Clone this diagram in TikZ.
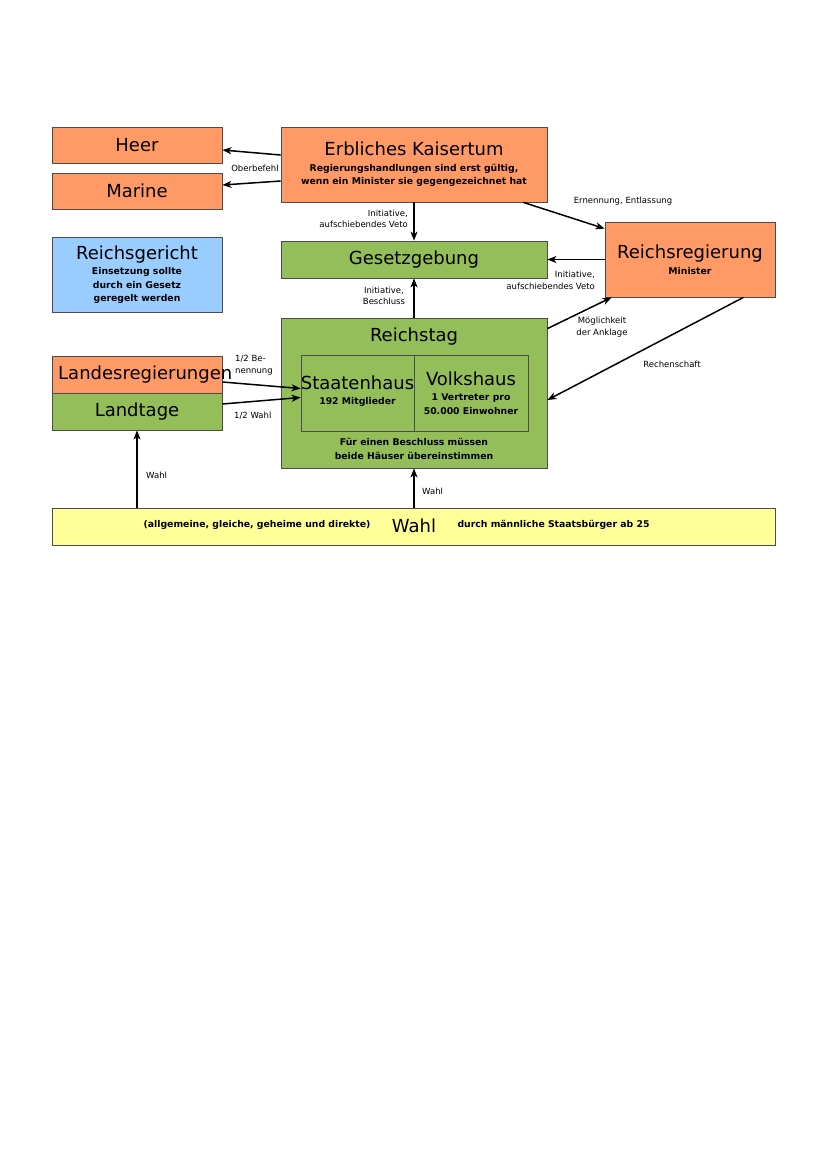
\documentclass[tikz,border=0pt]{standalone}
\usepackage{fontspec}
\setmainfont{DejaVu Sans}
\usetikzlibrary{arrows.meta}
\definecolor{kaiserorange}{RGB}{255,153,102}
\definecolor{reichgreen}{RGB}{148,190,90}
\definecolor{gerichtblue}{RGB}{153,204,255}
\definecolor{wahlyellow}{RGB}{255,255,153}
\newcommand{\ttlfont}{\mdseries\fontsize{18}{21}\selectfont}
\newcommand{\subbfont}{\bfseries\fontsize{9.3}{13.5}\selectfont}
\newcommand{\lblfont}{\fontsize{8.5}{11.5}\selectfont}
\tikzset{
    boxo/.style = {rectangle, draw=black!70, line width=0.8pt, fill=kaiserorange, align=center, inner sep=0pt, font=\ttlfont},
    boxg/.style = {rectangle, draw=black!70, line width=0.8pt, fill=reichgreen, align=center, inner sep=0pt, font=\ttlfont},
    boxb/.style = {rectangle, draw=black!70, line width=0.8pt, fill=gerichtblue, align=center, inner sep=0pt, font=\ttlfont},
    boxy/.style = {rectangle, draw=black!70, line width=0.8pt, fill=wahlyellow, align=center, inner sep=0pt, font=\ttlfont},
    multi/.style = {font=\subbfont},
    edgea/.style = {-{Stealth[length=9pt,width=7pt,inset=2.5pt]}, line width=1.5pt, black},
    lbl/.style = {align=center, font=\lblfont, inner sep=0pt},
    txt/.style = {align=center, font=\subbfont, inner sep=0pt}
}

\begin{document}
\begin{tikzpicture}[x=1pt,y=-1pt]
\useasboundingbox (0,0) rectangle (828,1171);
% boxes
\node[boxo, minimum width=170pt, minimum height=36pt] (heer) at (137,145) {Heer};
\node[boxo, minimum width=170pt, minimum height=36pt] (marine) at (137,191) {Marine};
\node[boxo, multi, minimum width=266pt, minimum height=75pt] (kaiser) at (414,164.5)
  {{\ttlfont Erbliches Kaisertum}\\[2pt]Regierungshandlungen sind erst gültig,\\wenn ein Minister sie gegengezeichnet hat};
\node[boxb, multi, minimum width=170pt, minimum height=75pt] (gericht) at (137,274.5)
  {{\ttlfont Reichsgericht}\\[2pt]Einsetzung sollte\\durch ein Gesetz\\geregelt werden};
\node[boxg, minimum width=266pt, minimum height=37pt] (gesetz) at (414,259.5) {Gesetzgebung};
\node[boxo, multi, minimum width=170pt, minimum height=75pt] (reg) at (690,259.5)
  {{\ttlfont Reichsregierung}\\[2pt]Minister};
\node[boxg, minimum width=266pt, minimum height=150pt] (rtag) at (414,393) {};
\node[boxg, minimum width=113pt, minimum height=76pt] (staaten) at (357.5,393) {};
\node[boxg, minimum width=114pt, minimum height=76pt] (volk) at (471,393) {};
\node[txt] (staatentext) at (357.5,391)
  {{\ttlfont Staatenhaus}\\[2pt]192 Mitglieder};
\node[txt] (volktext) at (471,393)
  {{\ttlfont Volkshaus}\\[2pt]1 Vertreter pro\\50.000 Einwohner};
\node[font=\ttlfont, inner sep=0pt] (rtitle) at (414,337) {Reichstag};
\node[txt] (rnote) at (414,449) {Für einen Beschluss müssen\\beide Häuser übereinstimmen};
\node[boxo, minimum width=170pt, minimum height=37pt] (landreg) at (137,374.5) {};
\node[font=\ttlfont, inner sep=0pt, anchor=west] (landtext) at (58,374.5) {Landesregierungen};
\node[boxg, minimum width=170pt, minimum height=37pt] (landtage) at (137,411.5) {Landtage};
\node[boxy, minimum width=723pt, minimum height=37pt] (wahl) at (413.5,526.5) {};
\node[txt] (wahlart) at (257,525) {(allgemeine, gleiche, geheime und direkte)};
\node[font=\ttlfont, inner sep=0pt] (wahltitle) at (414,526) {Wahl};
\node[txt] (wahlwer) at (553.5,525) {durch männliche Staatsbürger ab 25};

% arrows
\draw[edgea] ([yshift=9.5pt]kaiser.west) -- ([yshift=-5pt]heer.east);
\draw[edgea] ([yshift=-16.5pt]kaiser.west) -- ([yshift=6pt]marine.east);
\draw[edgea] (kaiser.south) -- (gesetz.north);
\draw[edgea] ([xshift=-24pt]kaiser.south east) -- ([yshift=-7pt]reg.north west);
\draw[edgea] (reg.west) -- (gesetz.east);
\draw[edgea] (rtag.north) -- (gesetz.south);
\draw[edgea] ([yshift=-11pt]rtag.north east) -- ([xshift=7pt]reg.south west);
\draw[edgea] ([xshift=-32pt]reg.south east) -- ([yshift=-7pt]rtag.east);
\draw[edgea] ([yshift=-7.5pt]landreg.east) -- ([yshift=4.5pt]staaten.west);
\draw[edgea] ([yshift=7.5pt]landtage.east) -- ([yshift=-4.5pt]staaten.west);
\draw[edgea] (wahl.north -| landtage.south) -- (landtage.south);
\draw[edgea] (wahl.north -| rtag.south) -- (rtag.south);

% labels
\node[lbl] (lober) at (255,168) {Oberbefehl};
\node[lbl, align=right, anchor=east] (lkaiser) at (408,219) {Initiative,\\aufschiebendes Veto};
\node[lbl] (lernenn) at (623,201) {Ernennung, Entlassung};
\node[lbl, align=right, anchor=east] (lreg) at (595,280.5) {Initiative,\\aufschiebendes Veto};
\node[lbl] (lbeschl) at (384,296) {Initiative,\\Beschluss};
\node[lbl] (lanklage) at (602,327) {Möglichkeit\\der Anklage};
\node[lbl] (lrechen) at (672,364) {Rechenschaft};
\node[lbl, align=left, anchor=west] (lbenenn) at (235,365) {1/2 Be-\\nennung};
\node[lbl, anchor=west] (lhalbwahl) at (234,416) {1/2 Wahl};
\node[lbl, anchor=west] (lwahlland) at (146,475) {Wahl};
\node[lbl, anchor=west] (lwahlrtag) at (422,491) {Wahl};
\end{tikzpicture}
\end{document}
